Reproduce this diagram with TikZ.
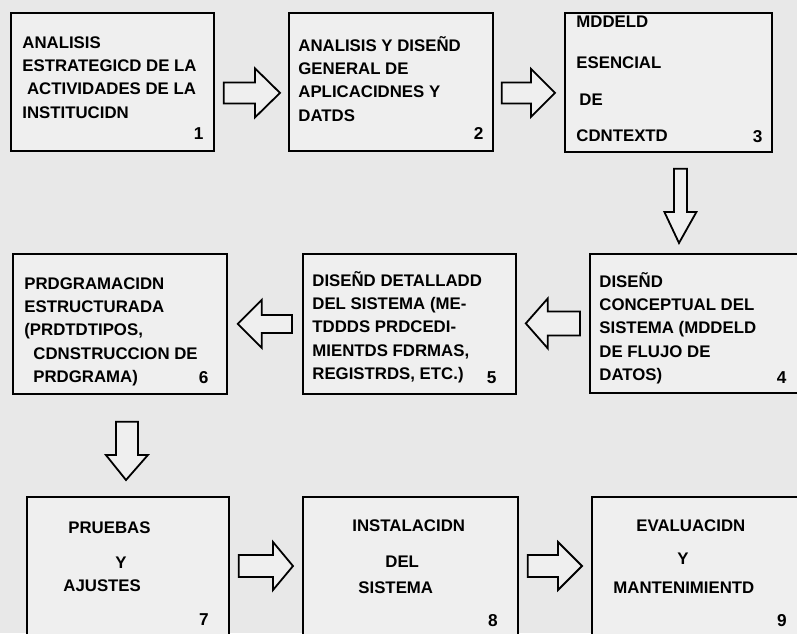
\documentclass[tikz,border=0pt]{standalone}
\usepackage{fontspec}
\setmainfont{Liberation Sans}
\usetikzlibrary{calc}

\definecolor{paper}{RGB}{232,232,232}
\definecolor{boxfill}{RGB}{239,239,239}

\tikzset{
  box/.style={draw=black, fill=boxfill, line width=0.9pt, anchor=north west, inner sep=0pt},
  txt/.style={anchor=north west, align=left, inner sep=0pt, font=\fontsize{8.4}{11.65}\selectfont\bfseries,
    execute at begin node=\rule{0pt}{8pt}},
  num/.style={anchor=base east, inner sep=0pt, font=\fontsize{8.6}{10}\selectfont\bfseries},
  blk/.style={draw=black, fill=boxfill, line width=0.9pt, line join=miter},
}

% block arrow, left or right: tail, tip, shaft half, head half, head length
\newcommand{\harrow}[5]{%
  \draw[blk] let \p1=(#1), \p2=(#2), \n1={sign(\x2-\x1)} in
    (\x1,\y1+#3) -- (\x2-\n1*#5,\y1+#3) -- (\x2-\n1*#5,\y1+#4) -- (\x2,\y1)
    -- (\x2-\n1*#5,\y1-#4) -- (\x2-\n1*#5,\y1-#3) -- (\x1,\y1-#3) -- cycle ;}
% block arrow, downwards
\newcommand{\varrow}[5]{%
  \draw[blk] let \p1=(#1), \p2=(#2) in
    (\x1-#3,\y1) -- (\x1-#3,\y2+#5) -- (\x1-#4,\y2+#5) -- (\x2,\y2)
    -- (\x1+#4,\y2+#5) -- (\x1+#3,\y2+#5) -- (\x1+#3,\y1) -- cycle ;}

\begin{document}
\begin{tikzpicture}[x=0.5pt, y=-0.5pt]
\useasboundingbox (0,0) rectangle (797,633) ;
\clip (0,0) rectangle (797,633) ;
\fill[paper] (0,0) rectangle (797,633) ;

%% first row
% box 1
\node[box, minimum width=101.5pt, minimum height=69pt] (b1) at (10,12) {} ;
\node[txt] (t1) at ([shift={(12,24)}]b1.north west)
  {ANALISIS\\ESTRATEGICD DE LA\\\ ACTIVIDADES DE LA\\INSTITUCIDN} ;
\node[num] (n1) at ([shift={(-11,-12)}]b1.south east) {1} ;
% box 2
\node[box, minimum width=102pt, minimum height=69pt] (b2) at (288,12) {} ;
\node[txt] (t2) at ([shift={(10,24)}]b2.north west)
  {ANALISIS Y DISEÑD\\GENERAL DE\\APLICACIDNES Y\\DATDS} ;
\node[num] (n2) at ([shift={(-10,-12)}]b2.south east) {2} ;
% box 3
\node[box, minimum width=103.5pt, minimum height=69.5pt] (b3) at (564,12) {} ;
\node[txt] (t3) at ([shift={(12,4)}]b3.north west)
  {MDDELD\\[8.85pt]ESENCIAL\\[6.85pt]\hspace{1.5pt}DE\\[6.35pt]CDNTEXTD} ;
\node[num] (n3) at ([shift={(-10,-10)}]b3.south east) {3} ;

%% second row
% box 6
\node[box, minimum width=107pt, minimum height=70pt] (b6) at (12,253) {} ;
\node[txt] (t6) at ([shift={(12,24)}]b6.north west)
  {PRDGRAMACIDN\\ESTRUCTURADA\\(PRDTDTIPOS,\\\hspace{4.5pt}CDNSTRUCCION DE\\\hspace{4.5pt}PRDGRAMA)} ;
\node[num] (n6) at ([shift={(-19,-11)}]b6.south east) {6} ;
% box 5
\node[box, minimum width=106.5pt, minimum height=70pt] (b5) at (302,253) {} ;
\node[txt] (t5) at ([shift={(10,18)}]b5.north west)
  {DISEÑD DETALLADD\\DEL SISTEMA (ME-\\TDDDS PRDCEDI-\\MIENTDS FDRMAS,\\REGISTRDS, ETC.)} ;
\node[num] (n5) at ([shift={(-20,-11)}]b5.south east) {5} ;
% box 4
\node[box, minimum width=110pt, minimum height=69.5pt] (b4) at (589,253) {} ;
\node[txt] (t4) at ([shift={(10,19)}]b4.north west)
  {DISEÑD\\CONCEPTUAL DEL\\SISTEMA (MDDELD\\DE FLUJO DE\\DATOS)} ;
\node[num] (n4) at ([shift={(-24,-10)}]b4.south east) {4} ;

%% third row
% box 7
\node[box, minimum width=101pt, minimum height=80pt] (b7) at (26,496) {} ;
\node[txt] (t7) at ([shift={(37,25)}]b7.north west)
  {\hspace{2.5pt}PRUEBAS\\[5.85pt]\hspace{26pt}Y\\AJUSTES} ;
\node[num] (n7) at ([shift={(183,129)}]b7.north west) {7} ;
% box 8
\node[box, minimum width=107.5pt, minimum height=80pt] (b8) at (302,496) {} ;
\node[txt] (t8) at ([shift={(50,23)}]b8.north west)
  {INSTALACIDN\\[6.35pt]\hspace{16.5pt}DEL\\[1.35pt]\hspace{3pt}SISTEMA} ;
\node[num] (n8) at ([shift={(196,130)}]b8.north west) {8} ;
% box 9
\node[box, minimum width=110pt, minimum height=80pt] (b9) at (591,496) {} ;
\node[txt] (t9) at ([shift={(22,23)}]b9.north west)
  {\hspace{11.5pt}EVALUACIDN\\[4.85pt]\hspace{32pt}Y\\[2.85pt]MANTENIMIENTD} ;
\node[num] (n9) at ([shift={(196,130)}]b9.north west) {9} ;

%% arrows
\harrow{[shift={(9,11)}]b1.east}{[shift={(-8,11)}]b2.west}{5.25pt}{12.25pt}{12.5pt}
\harrow{[shift={(8,11)}]b2.east}{[shift={(-9,11)}]b3.west}{5.25pt}{12pt}{12pt}
\varrow{[shift={(12,16)}]b3.south}{[shift={(90,-10)}]b4.north west}{3.25pt}{8pt}{15.5pt}
\harrow{[shift={(-9,0)}]b4.west}{[shift={(9,0)}]b5.east}{6pt}{12.5pt}{11pt}
\harrow{[shift={(-10,0)}]b5.west}{[shift={(10,0)}]b6.east}{4.5pt}{12pt}{12pt}
\varrow{[shift={(7,27)}]b6.south}{[shift={(100,-16)}]b7.north west}{5.5pt}{10.5pt}{12.5pt}
\harrow{[shift={(9,70)}]b7.north east}{[shift={(-9,70)}]b8.north west}{5.5pt}{12pt}{10pt}
\harrow{[shift={(9,70)}]b8.north east}{[shift={(-9,70)}]b9.north west}{5.5pt}{12pt}{12pt}
\end{tikzpicture}
\end{document}
